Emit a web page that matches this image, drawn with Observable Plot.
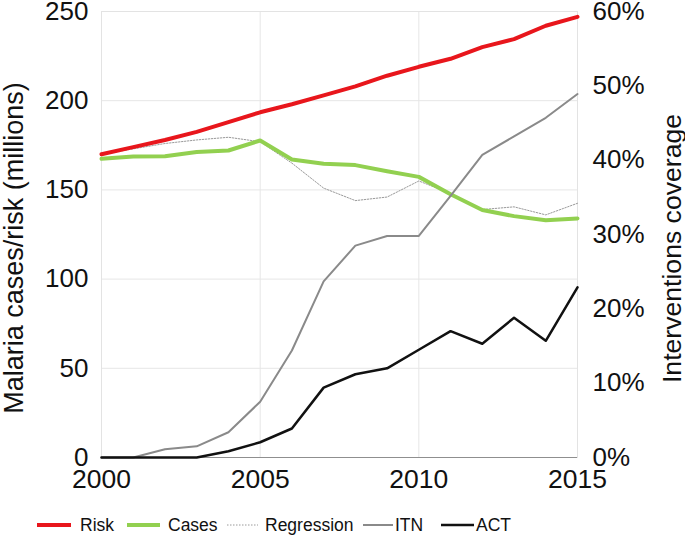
<!DOCTYPE html>
<html><head><meta charset="utf-8">
<script src="https://cdn.jsdelivr.net/npm/d3@7"></script>
<script src="https://cdn.jsdelivr.net/npm/@observablehq/plot@0.6"></script>
<style>
body{margin:0;background:#fff;font-family:"Liberation Sans",Arial,Helvetica,sans-serif;}
#wrap{position:relative;width:685px;height:538px;}
#legend{position:absolute;left:0;top:500px;width:685px;height:38px;font-size:17.5px;color:#111;}
#legend .it{position:absolute;top:14px;display:flex;align-items:center;white-space:nowrap;line-height:22px;}
#legend svg{display:block;}
</style></head><body>
<div id="wrap"><div id="chart"></div><div id="legend"></div></div>
<script>
const years = [2000,2001,2002,2003,2004,2005,2006,2007,2008,2009,2010,2011,2012,2013,2014,2015];
const risk = [170,174,178,182.5,188,193.5,198,203,208,214,219,223.5,230,234.5,242,247];
const cases = [167.4,168.7,168.9,171.3,172.1,177.7,167,164.6,163.9,160.5,157.3,147.6,138.7,135.3,133,134];
const regression = [170,173,176,178,179.5,177,165,151,144,146,155,148,139,140.5,136,142.5];
const itn = [0,0,1.1,1.5,3.4,7.5,14.4,23.7,28.5,29.8,29.8,35.2,40.7,43.2,45.7,48.9];   // %
const act = [0,0,0,0,0.85,2.05,3.9,9.4,11.2,12.0,14.5,17.0,15.3,18.8,15.7,22.9];        // %
const leftTicks = [0,50,100,150,200,250];
const rightTicks = [0,10,20,30,40,50,60];
const xTicks = [2000,2005,2010,2015];
const legendLabels = ["Risk","Cases","Regression","ITN","ACT"];

const leftMax = 250, rightMax = 60;
const pct = v => v * leftMax / rightMax;

const styles = {
  Risk: {stroke:"#e8161c", strokeWidth:4},
  Cases: {stroke:"#92d050", strokeWidth:4},
  Regression: {stroke:"#9a9a9a", strokeWidth:1, strokeDasharray:"1.5,1.5"},
  ITN: {stroke:"#8a8a8a", strokeWidth:2},
  ACT: {stroke:"#111111", strokeWidth:2.5}
};

const chart = Plot.plot({
  width: 685,
  height: 500,
  marginLeft: 101,
  marginRight: 108,
  marginTop: 11,
  marginBottom: 43,
  style: {fontFamily: '"Liberation Sans", Arial, sans-serif', fontSize: "26px", color: "#111", background: "#fff", overflow: "visible"},
  x: {domain: [2000, 2015]},
  y: {domain: [0, leftMax]},
  marks: [
    Plot.gridY(leftTicks, {stroke: "#e6e6e6", strokeOpacity: 1}),
    Plot.gridX([2005, 2010], {stroke: "#e6e6e6", strokeOpacity: 1}),
    Plot.frame({stroke: "#e3e3e3"}),
    Plot.ruleY([0], {stroke: "#8f8f8f"}),
    Plot.axisX(xTicks, {tickSize: 0, tickPadding: 12, tickFormat: d => String(d), label: null, fontSize: 26.5}),
    Plot.axisY(leftTicks, {anchor: "left", tickSize: 0, tickPadding: 13, label: null, fontSize: 26}),
    Plot.axisY(rightTicks.map(pct), {anchor: "right", tickSize: 0, tickPadding: 15, label: null, fontSize: 26,
      tickFormat: d => Math.round(d * rightMax / leftMax) + "%"}),
    Plot.text(["Malaria cases/risk (millions)"], {frameAnchor: "left", textAnchor: "middle", dx: -87.5, dy: 13.5, rotate: -90, fontSize: 27, fill: "#111"}),
    Plot.text(["Interventions coverage"], {frameAnchor: "right", textAnchor: "middle", dx: 94.5, dy: 14, rotate: -90, fontSize: 26.6, fill: "#111"}),
    Plot.line(years, {x: years, y: regression, ...styles.Regression}),
    Plot.line(years, {x: years, y: cases, ...styles.Cases}),
    Plot.line(years, {x: years, y: risk, ...styles.Risk}),
    Plot.line(years, {x: years, y: itn.map(pct), ...styles.ITN}),
    Plot.line(years, {x: years, y: act.map(pct), ...styles.ACT})
  ]
});
document.getElementById("chart").appendChild(chart);

// legend
const legendPos = [
  {sw: 37, sww: 34, gap: 9},
  {sw: 127, sww: 33, gap: 8},
  {sw: 227, sww: 31, gap: 7},
  {sw: 363, sww: 30, gap: 2},
  {sw: 441, sww: 33, gap: 2}
];
const leg = document.getElementById("legend");
legendLabels.forEach((lab, i) => {
  const s = styles[lab], p = legendPos[i];
  const it = document.createElement("div");
  it.className = "it";
  it.style.left = p.sw + "px";
  it.innerHTML = `<svg width="${p.sww}" height="10"><line x1="0" x2="${p.sww}" y1="5" y2="5" stroke="${s.stroke}" stroke-width="${s.strokeWidth}" ${s.strokeDasharray ? `stroke-dasharray="${s.strokeDasharray}"` : ""} stroke-linecap="${s.strokeWidth >= 4 ? "round" : "butt"}"/></svg><span style="margin-left:${p.gap}px">${lab}</span>`;
  leg.appendChild(it);
});
</script>
</body></html>
